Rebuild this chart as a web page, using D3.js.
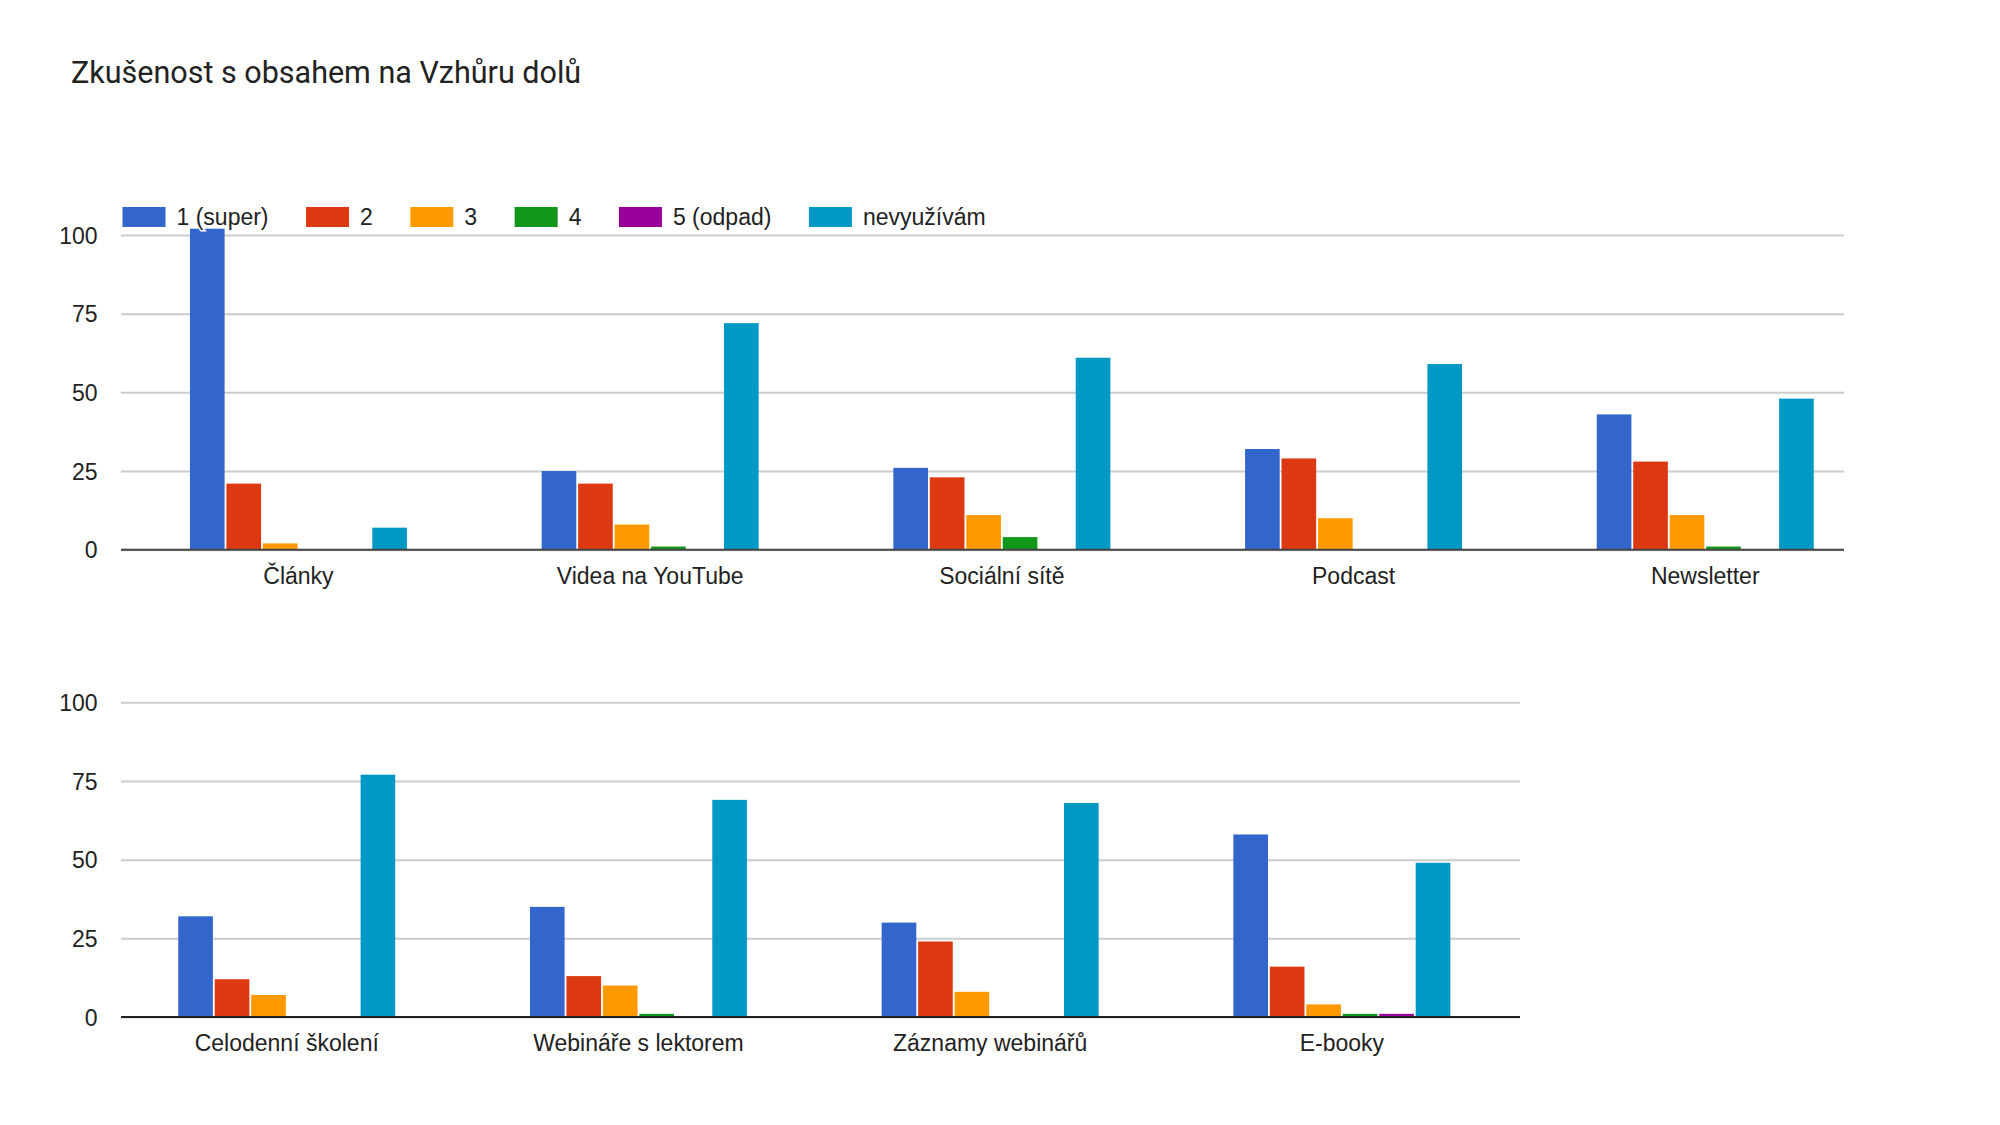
<!DOCTYPE html>
<html>
<head>
    <meta charset="utf-8">
    <style>
        body {
            margin: 0;
            background: white;
        }
        svg {
            display: block;
            background-color: white;
            font-family: Arial, 'Liberation Sans', sans-serif;
        }
        .y .tick line {
            stroke: #cccccc;
            stroke-width: 2px;
        }
        .y .tick text, .x .tick text {
            font-size: 23px;
            fill: #222;
        }
    </style>
</head>
<body>
    <svg width="2000" height="1125" id="chart"></svg>

<script src="https://cdnjs.cloudflare.com/ajax/libs/d3/7.8.5/d3.min.js"></script>
<script>
    // series (legend) and colours
    const series = ["1 (super)", "2", "3", "4", "5 (odpad)", "nevyužívám"]
    const colors = ["#3366cc", "#dc3912", "#ff9900", "#109618", "#990099", "#0099c6"]

    // categories, first five are the upper chart, the rest the lower one
    const categories = ["Články", "Videa na YouTube", "Sociální sítě", "Podcast", "Newsletter",
        "Celodenní školení", "Webináře s lektorem", "Záznamy webinářů", "E-booky"]

    // answers per series, in the order of categories
    const super1 = [102, 25, 26, 32, 43, 32, 35, 30, 58]
    const dva = [21, 21, 23, 29, 28, 12, 13, 24, 16]
    const tri = [2, 8, 11, 10, 11, 7, 10, 8, 4]
    const ctyri = [0, 1, 4, 0, 1, 0, 1, 0, 1]
    const odpad = [0, 0, 0, 0, 0, 0, 0, 0, 1]
    const nevyuzivam = [7, 72, 61, 59, 48, 77, 69, 68, 49]

    const yTicks = [0, 25, 50, 75, 100]

    const values = [super1, dva, tri, ctyri, odpad, nevyuzivam]

    let svg = d3.select("#chart")

    // title
    svg.append("text")
        .attr("x", 71)
        .attr("y", 83)
        .text("Zkušenost s obsahem na Vzhůru dolů")
        .style("font", "30.5px Roboto")
        .style("fill", "#222")

    // one panel of grouped bars
    function drawPanel(cats, startIndex, opts) {
        let g = svg.append("g")

        let y = d3.scaleLinear()
            .domain([0, 100])
            .range([opts.bottom, opts.bottom - 314.7])

        let x = d3.scaleBand()
            .domain(cats)
            .range([opts.bandStart, opts.bandStart + cats.length * 351.7])

        let xInner = d3.scaleBand()
            .domain(series)
            .range([0, 217])
            .paddingInner(0.05)

        let yAxis = g.append("g")
            .attr("class", "y axis")
            .attr("transform", `translate(${opts.left},0)`)
            .call(d3.axisLeft(y)
                .tickValues(yTicks)
                .tickSize(-(opts.right - opts.left))
                .tickPadding(23.5))
            .call(g => g.select(".domain").remove())
        yAxis.selectAll(".tick text").attr("dy", "0.36em")

        // rows for every bar
        let rows = []
        cats.forEach((c, i) => {
            series.forEach((s, j) => {
                rows.push({ cat: c, s: s, color: colors[j], v: values[j][startIndex + i] })
            })
        })

        g.append("g")
            .selectAll("rect")
            .data(rows.filter(d => d.v > 0))
            .join("rect")
            .attr("x", d => x(d.cat) + (x.bandwidth() - 217) / 2 + xInner(d.s))
            .attr("y", d => y(d.v))
            .attr("width", xInner.bandwidth())
            .attr("height", d => y(0) - y(d.v))
            .style("fill", d => d.color)

        // baseline
        g.append("line")
            .attr("x1", opts.left)
            .attr("x2", opts.right)
            .attr("y1", y(0))
            .attr("y2", y(0))
            .style("stroke", opts.baseColor)
            .style("stroke-width", 2)

        g.append("g")
            .attr("class", "x axis")
            .attr("transform", `translate(0,${y(0)})`)
            .call(d3.axisBottom(x).tickSize(0).tickPadding(18))
            .call(g => g.select(".domain").remove())
    }

    drawPanel(categories.slice(0, 5), 0, { left: 121, right: 1844, bottom: 549.7, bandStart: 122.6, baseColor: "#444" })
    drawPanel(categories.slice(5), 5, { left: 121, right: 1520, bottom: 1017, bandStart: 110.9, baseColor: "#222" })

    // legend on top of the upper chart
    let legend = svg.append("g")
    let lx = 122.5
    series.forEach((s, i) => {
        legend.append("rect")
            .attr("x", lx)
            .attr("y", 207)
            .attr("width", 43)
            .attr("height", 20)
            .style("fill", colors[i])
        let t = legend.append("text")
            .attr("x", lx + 54)
            .attr("y", 217)
            .attr("dy", "0.36em")
            .text(s)
            .style("font-size", "23px")
            .style("fill", "#222")
            .style("stroke", "white")
            .style("stroke-width", 3)
            .style("paint-order", "stroke")
        lx = lx + 54 + t.node().getComputedTextLength() + 37.5
    })
</script>
</body>
</html>
